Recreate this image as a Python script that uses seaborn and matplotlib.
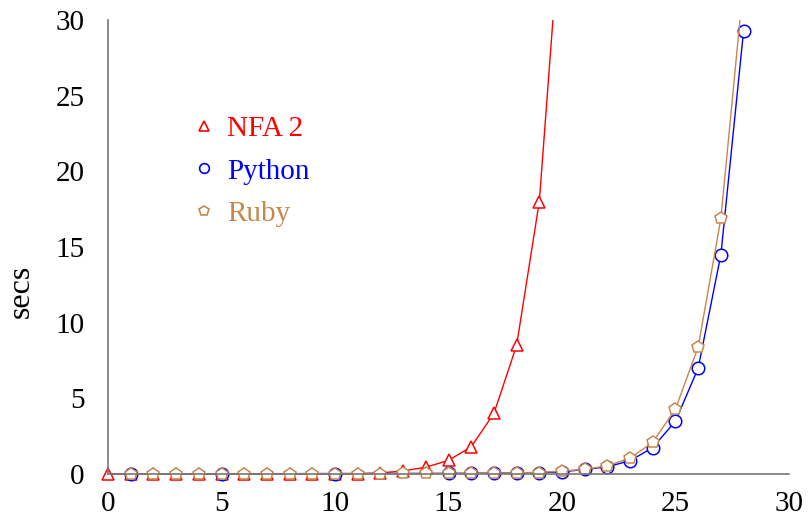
import pandas as pd
import matplotlib
matplotlib.use("Agg")
import matplotlib.pyplot as plt
from matplotlib.lines import Line2D
import seaborn as sns

# values
nfa_x = list(range(0, 21))
nfa_y = [0, 0, 0, 0, 0, 0, 0, 0, 0, 0, 0.01, 0.02, 0.07, 0.2, 0.45,
         0.9, 1.8, 4.0, 8.5, 18.0, 38.0]
python_x = [1, 5, 10, 15, 16, 17, 18, 19, 20, 21, 22, 23, 24, 25, 26, 27, 28]
python_y = [0.01, 0.02, 0.03, 0.04, 0.05, 0.06, 0.07, 0.09, 0.15, 0.3, 0.48,
            0.88, 1.75, 3.5, 7.0, 14.5, 29.3]
ruby_x = list(range(1, 29))
ruby_y = [0.01, 0.01, 0.01, 0.01, 0.02, 0.02, 0.02, 0.02, 0.03, 0.03, 0.03,
          0.03, 0.04, 0.04, 0.05, 0.05, 0.06, 0.08, 0.1, 0.2, 0.3, 0.55,
          1.05, 2.1, 4.3, 8.4, 16.9, 32.5]

series = ["NFA 2", "Python", "Ruby"]
colors = {"NFA 2": "#ff0000", "Python": "#0000ff", "Ruby": "#c8874a"}
markers = {"NFA 2": "^", "Python": "o", "Ruby": "p"}

df = pd.concat([
    pd.DataFrame({"n": nfa_x, "secs": nfa_y, "impl": "NFA 2"}),
    pd.DataFrame({"n": python_x, "secs": python_y, "impl": "Python"}),
    pd.DataFrame({"n": ruby_x, "secs": ruby_y, "impl": "Ruby"}),
])

sns.set_style("white")
plt.rcParams["font.family"] = ["Liberation Serif", "DejaVu Serif"]
plt.rcParams["text.color"] = "black"
plt.rcParams["axes.labelcolor"] = "black"

fig = plt.figure(figsize=(8.09, 5.22), dpi=100)
ax = fig.add_axes([0.1195, 0.0745, 0.8698, 0.8872])

sns.lineplot(data=df, x="n", y="secs", hue="impl", style="impl",
             hue_order=series, style_order=series, palette=colors,
             markers=markers, dashes=False, legend=False, ax=ax,
             linewidth=1, markersize=9)

for line, name in zip(ax.lines, series):
    line.set_markerfacecolor("white")
    line.set_markeredgecolor(colors[name])
    line.set_markeredgewidth(1.1)

ax.set_xlim(-0.5, 30.5)
ax.set_ylim(-0.6, 30)
ax.set_xticks([0, 5, 10, 15, 20, 25, 30])
ax.set_yticks([0, 5, 10, 15, 20, 25, 30])
for side in ["top", "right"]:
    ax.spines[side].set_visible(False)
for side in ["left", "bottom"]:
    ax.spines[side].set_position(("data", 0))
    ax.spines[side].set_bounds(0, 30)
    ax.spines[side].set_color("#777777")
    ax.spines[side].set_linewidth(1.2)
ax.tick_params(axis="x", direction="inout", length=12, width=1, color="#333333",
               labelsize=21, pad=6, labelcolor="black")
ax.tick_params(axis="y", direction="out", length=8, width=1, color="#333333",
               labelsize=21, pad=9, labelcolor="black")
ax.set_xlabel("")
ax.set_ylabel("secs", fontsize=23)
ax.yaxis.set_label_coords(-0.086, 0.413)

handles = [Line2D([], [], linestyle="none", marker=markers[s], markersize=7,
                  markerfacecolor="white", markeredgecolor=colors[s],
                  markeredgewidth=1.2) for s in series]
ax.legend(handles, series, loc="upper left", bbox_to_anchor=(0.094, 0.85),
          frameon=False, fontsize=21, labelcolor=[colors[s] for s in series],
          handletextpad=0.3, labelspacing=0.55, handlelength=1.0)

fig.savefig("out.png", dpi=100)
